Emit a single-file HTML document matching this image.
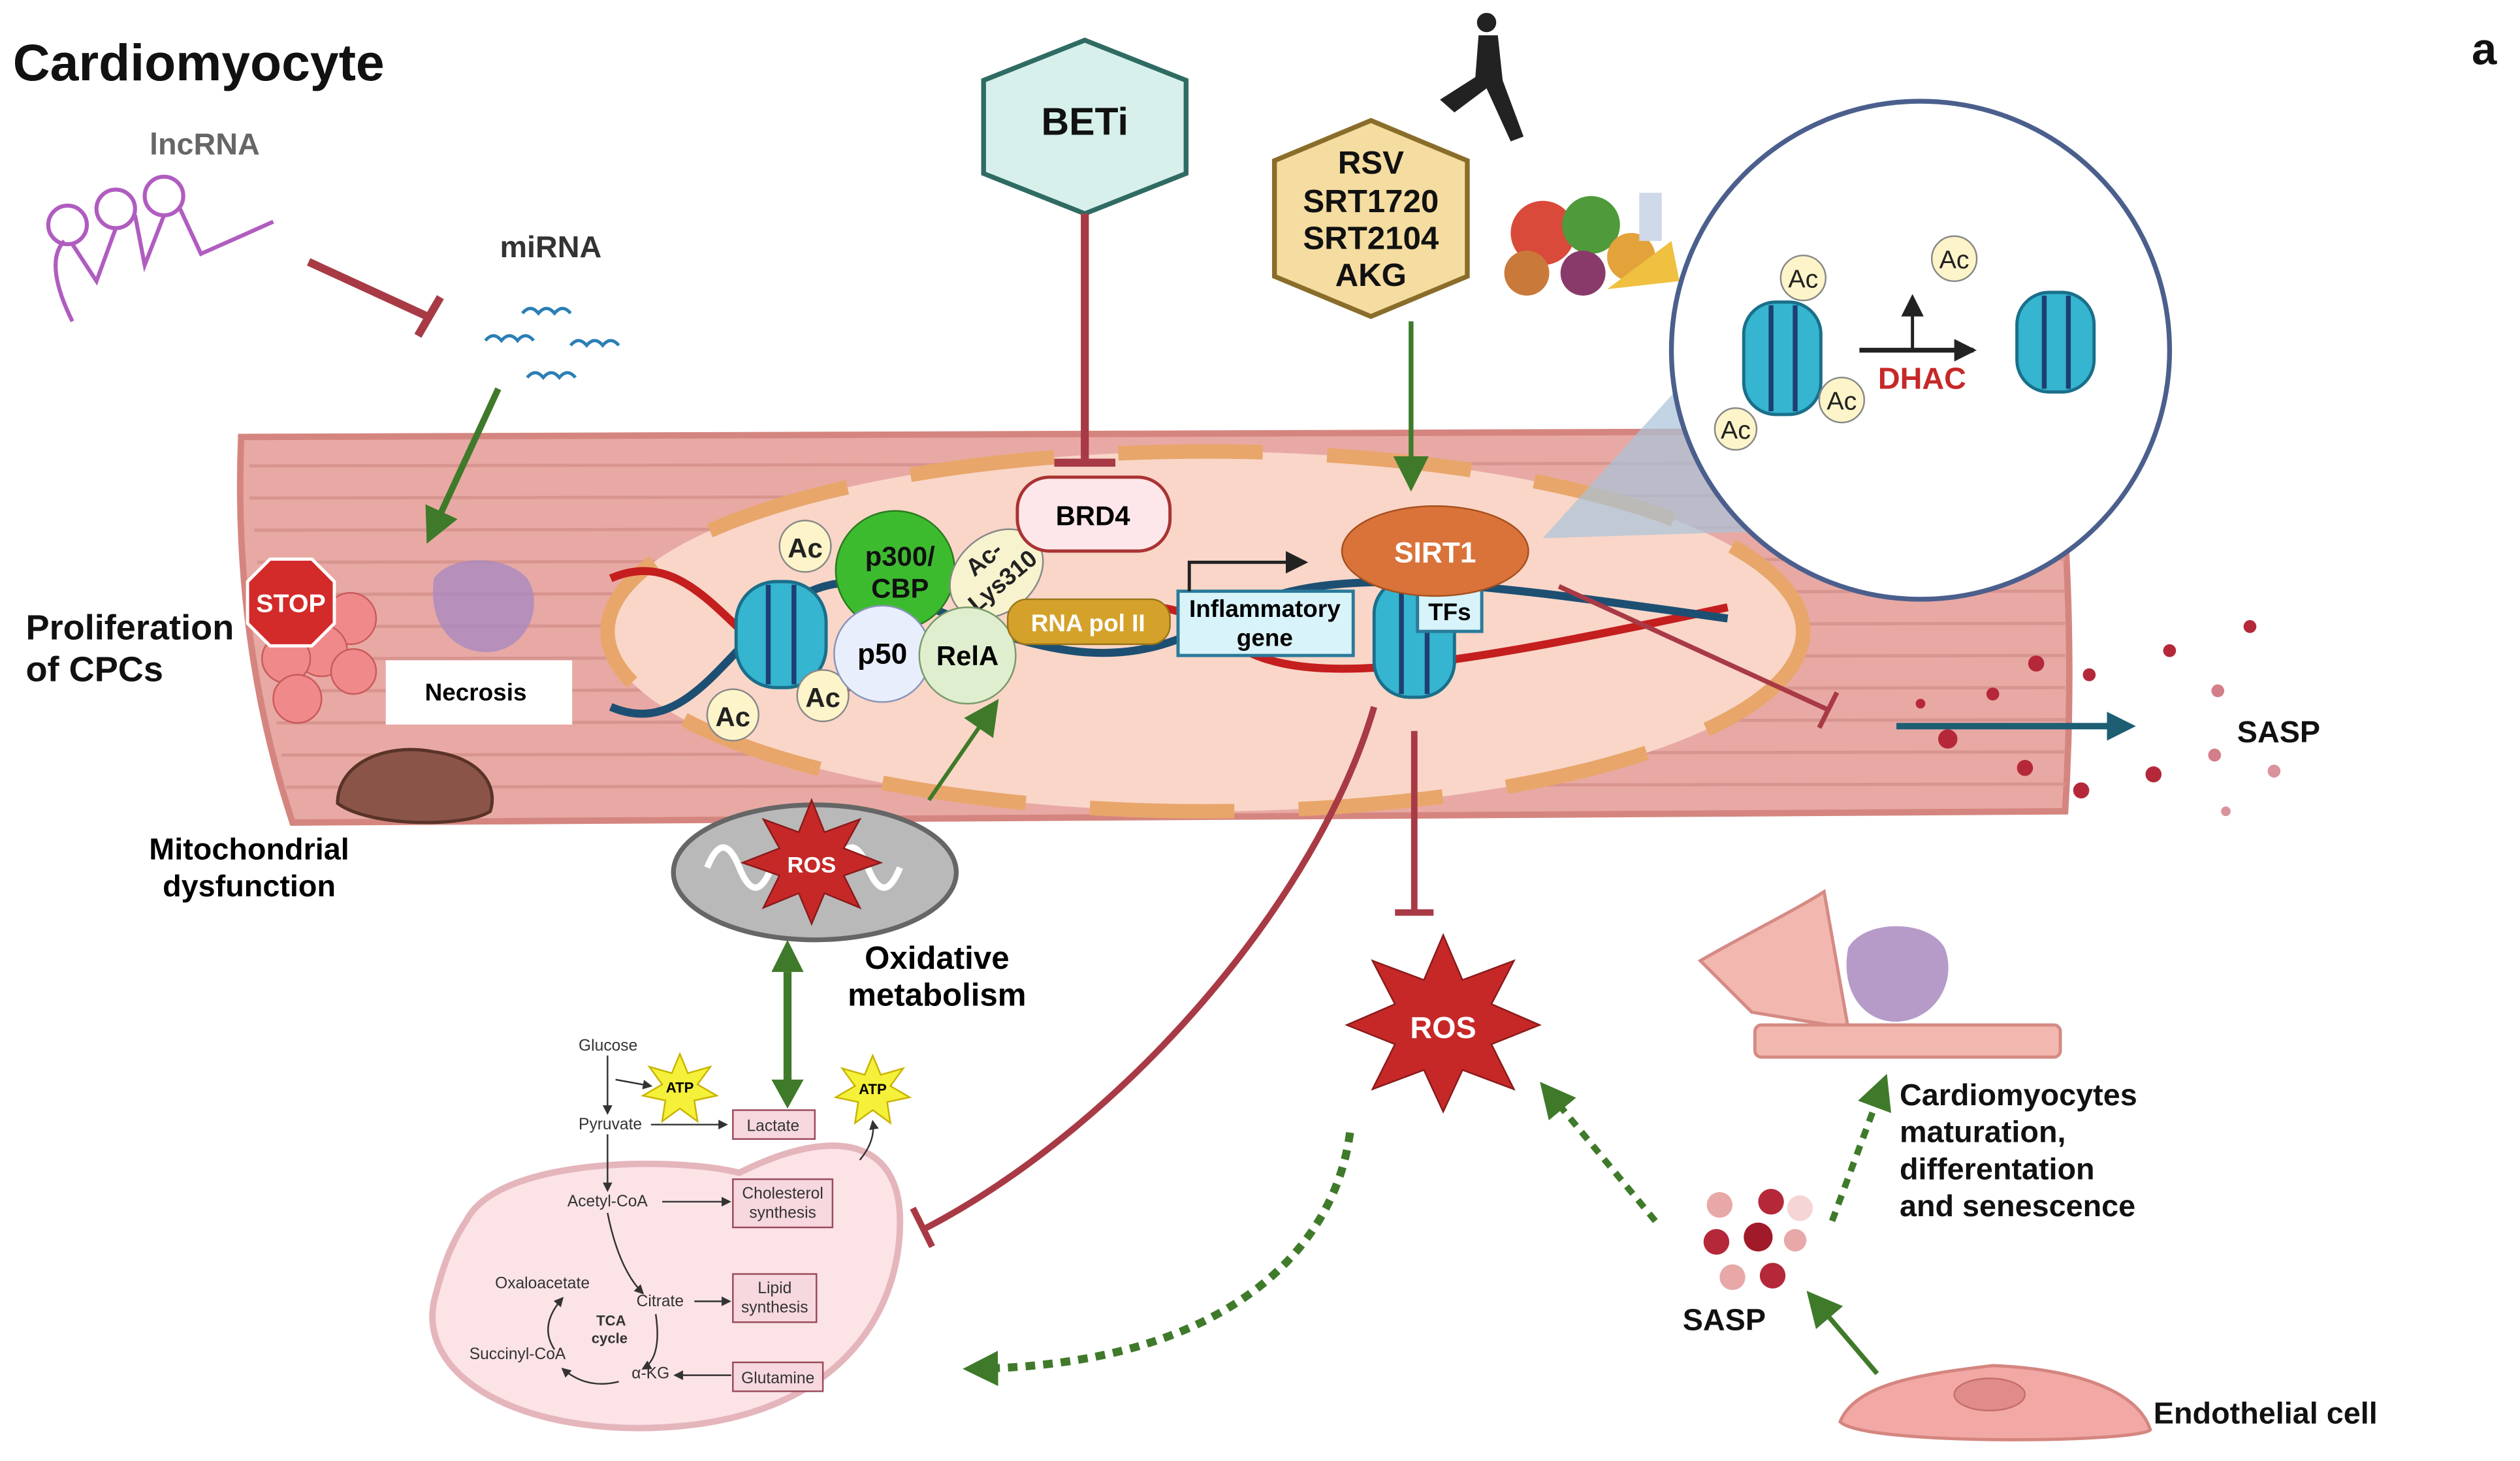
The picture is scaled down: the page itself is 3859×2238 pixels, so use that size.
<!DOCTYPE html>
<html><head><meta charset="utf-8"><style>html,body{margin:0;padding:0;background:#fff}svg{display:block}text{font-family:"Liberation Sans",sans-serif}</style></head>
<body>
<svg width="3859" height="2238" viewBox="0 0 1568 909.4" xmlns="http://www.w3.org/2000/svg">
<defs>
<marker id="agb" markerWidth="22" markerHeight="22" refX="16" refY="11" orient="auto" markerUnits="userSpaceOnUse"><path d="M0,0 L22,11 L0,22 z" fill="#3f7a2a"/></marker>
<marker id="ab" markerWidth="18" markerHeight="18" refX="14" refY="9" orient="auto" markerUnits="userSpaceOnUse"><path d="M0,0 L18,9 L0,18 z" fill="#1d5e73"/></marker>
<marker id="ak" markerWidth="14" markerHeight="14" refX="12" refY="7" orient="auto" markerUnits="userSpaceOnUse"><path d="M0,0 L14,7 L0,14 z" fill="#222"/></marker>
<marker id="as" markerWidth="6" markerHeight="6" refX="5" refY="3" orient="auto" markerUnits="userSpaceOnUse"><path d="M0,0 L6,3 L0,6 z" fill="#333"/></marker>
</defs>
<rect width="1568" height="910" fill="#fff"/>
<text x="8" y="50" font-size="32" font-weight="bold" fill="#111">Cardiomyocyte</text>
<text x="1538" y="40" font-size="28" font-weight="bold" fill="#111">a</text>

<!-- lncRNA -->
<text x="93" y="96" font-size="19" font-weight="bold" fill="#666">lncRNA</text>
<g fill="none" stroke="#b05cc0" stroke-width="2.5">
<path d="M45,200 C35,180 30,160 40,150"/>
<circle cx="42" cy="140" r="12"/><circle cx="72" cy="130" r="12"/><circle cx="102" cy="122" r="12"/>
<path d="M45,152 L60,175 L72,142 M84,134 L90,165 L102,134 M112,130 L125,158 L170,138"/></g>
<line x1="192" y1="163" x2="266" y2="197" stroke="#a83a45" stroke-width="5"/>
<line x1="260" y1="209" x2="274" y2="185" stroke="#a83a45" stroke-width="5"/>
<text x="311" y="160" font-size="19" font-weight="bold" fill="#333">miRNA</text>
<g stroke="#2a7fb5" stroke-width="2" fill="none">
<path d="M325,195 q5,-6 10,0 q5,-6 10,0 q5,-6 10,0"/><path d="M302,212 q5,-6 10,0 q5,-6 10,0 q5,-6 10,0"/>
<path d="M355,215 q5,-6 10,0 q5,-6 10,0 q5,-6 10,0"/><path d="M328,235 q5,-6 10,0 q5,-6 10,0 q5,-6 10,0"/></g>

<!-- muscle cell -->
<path d="M150,272 L1280,268 Q1292,390 1285,505 L182,512 Q145,400 150,272 z" fill="#e8a9a4" stroke="#d5857f" stroke-width="4"/>
<g stroke="#d89590" stroke-width="2">
<line x1="155" y1="290" x2="1285" y2="288"/><line x1="155" y1="310" x2="1285" y2="308"/><line x1="158" y1="330" x2="1285" y2="328"/><line x1="160" y1="350" x2="1285" y2="348"/><line x1="162" y1="370" x2="1285" y2="368"/><line x1="165" y1="390" x2="1285" y2="388"/><line x1="168" y1="410" x2="1285" y2="408"/><line x1="170" y1="430" x2="1285" y2="428"/><line x1="172" y1="450" x2="1285" y2="448"/><line x1="175" y1="470" x2="1285" y2="468"/><line x1="178" y1="490" x2="1285" y2="488"/></g>
<line x1="310" y1="242" x2="268" y2="333" stroke="#3f7a2a" stroke-width="4" marker-end="url(#agb)"/>
<!-- nucleus -->
<ellipse cx="750" cy="393" rx="372" ry="112" fill="#f9d6c8"/>
<ellipse cx="750" cy="393" rx="372" ry="112" fill="none" stroke="#e8a66a" stroke-width="9" stroke-dasharray="90 40"/>
<polygon points="960,335 1050,235 1120,330" fill="#a9c3d8" opacity="0.7"/>
<!-- DNA -->
<path d="M380,360 C450,330 470,460 560,420 S720,360 760,395 S880,420 1075,378" fill="none" stroke="#c41e1e" stroke-width="5"/>
<path d="M380,440 C450,470 470,330 560,370 S700,420 760,385 S900,360 1075,385" fill="none" stroke="#1d4f73" stroke-width="5"/>
<g><rect x="458" y="362" width="56" height="66" rx="25" fill="#35b5cf" stroke="#1a6f8a" stroke-width="2"/><line x1="478" y1="364" x2="478" y2="426" stroke="#1d3f73" stroke-width="3"/><line x1="494" y1="364" x2="494" y2="426" stroke="#1d3f73" stroke-width="3"/></g>
<g><rect x="855" y="360" width="50" height="74" rx="22" fill="#35b5cf" stroke="#1a6f8a" stroke-width="2"/><line x1="872" y1="362" x2="872" y2="432" stroke="#1d3f73" stroke-width="3"/><line x1="888" y1="362" x2="888" y2="432" stroke="#1d3f73" stroke-width="3"/></g>
<g font-size="17" font-weight="bold" fill="#222" text-anchor="middle">
<circle cx="501" cy="340" r="16" fill="#fdf5c9" stroke="#888"/><text x="501" y="347">Ac</text>
<circle cx="456" cy="445" r="16" fill="#fdf5c9" stroke="#888"/><text x="456" y="452">Ac</text>
<circle cx="512" cy="433" r="16" fill="#fdf5c9" stroke="#888"/><text x="512" y="440">Ac</text></g>
<circle cx="557" cy="355" r="37" fill="#3dbb2f" stroke="#2a7a20"/>
<text x="560" y="352" font-size="17" font-weight="bold" text-anchor="middle" fill="#111">p300/</text>
<text x="560" y="372" font-size="17" font-weight="bold" text-anchor="middle" fill="#111">CBP</text>
<ellipse cx="620" cy="357" rx="32" ry="24" transform="rotate(-40 620 357)" fill="#f8f3cf" stroke="#888"/>
<text x="620" y="350" font-size="15" font-weight="bold" text-anchor="middle" transform="rotate(-40 620 357)" fill="#222">Ac-</text>
<text x="620" y="368" font-size="15" font-weight="bold" text-anchor="middle" transform="rotate(-40 620 357)" fill="#222">Lys310</text>
<circle cx="549" cy="407" r="30" fill="#e8eefc" stroke="#8894b8"/><text x="549" y="413" font-size="18" font-weight="bold" text-anchor="middle">p50</text>
<circle cx="602" cy="408" r="30" fill="#dfeecf" stroke="#7a9a6a"/><text x="602" y="414" font-size="17" font-weight="bold" text-anchor="middle">RelA</text>
<rect x="627" y="373" width="101" height="28" rx="12" fill="#d4a22b" stroke="#9a7418"/><text x="677" y="393" font-size="15" font-weight="bold" text-anchor="middle" fill="#fff">RNA pol II</text>
<rect x="733" y="368" width="109" height="40" fill="#d8f3f9" stroke="#2a7a9a" stroke-width="2"/>
<text x="787" y="384" font-size="15" font-weight="bold" text-anchor="middle">Inflammatory</text><text x="787" y="402" font-size="15" font-weight="bold" text-anchor="middle">gene</text>
<path d="M740,368 L740,350 L812,350" fill="none" stroke="#222" stroke-width="2" marker-end="url(#ak)"/>
<rect x="882" y="367" width="40" height="26" fill="#d8f3f9" stroke="#2a7a9a" stroke-width="2"/><text x="902" y="386" font-size="15" font-weight="bold" text-anchor="middle">TFs</text>
<ellipse cx="893" cy="343" rx="58" ry="28" fill="#d9733a" stroke="#a5501f"/><text x="893" y="350" font-size="18" font-weight="bold" text-anchor="middle" fill="#fff">SIRT1</text>
<rect x="633" y="297" width="95" height="46" rx="20" fill="#fde7ea" stroke="#a33" stroke-width="2"/><text x="680" y="327" font-size="17" font-weight="bold" text-anchor="middle">BRD4</text>

<!-- BETi -->
<polygon points="675,25 738,50 738,108 675,133 612,108 612,50" fill="#d7f0ec" stroke="#2f6b63" stroke-width="3"/>
<text x="675" y="84" font-size="24" font-weight="bold" text-anchor="middle" fill="#111">BETi</text>
<line x1="675" y1="133" x2="675" y2="288" stroke="#a83a45" stroke-width="5"/>
<line x1="656" y1="288" x2="694" y2="288" stroke="#a83a45" stroke-width="5"/>
<!-- RSV -->
<polygon points="853,75 913,100 913,172 853,197 793,172 793,100" fill="#f5dca0" stroke="#8a6d2a" stroke-width="3"/>
<g font-size="20" font-weight="bold" text-anchor="middle" fill="#111"><text x="853" y="108">RSV</text><text x="853" y="132">SRT1720</text><text x="853" y="155">SRT2104</text><text x="853" y="178">AKG</text></g>
<line x1="878" y1="200" x2="878" y2="300" stroke="#3f7a2a" stroke-width="3" marker-end="url(#agb)"/>
<g fill="#222"><circle cx="925" cy="14" r="6"/><path d="M920,22 L932,22 L935,50 L948,85 L940,88 L925,55 L905,70 L896,62 L918,48 z"/></g>
<g><circle cx="960" cy="145" r="20" fill="#d94a3a"/><circle cx="990" cy="140" r="18" fill="#4f9a3a"/><circle cx="1015" cy="160" r="15" fill="#e3a33a"/><circle cx="950" cy="170" r="14" fill="#c97a3a"/><circle cx="985" cy="170" r="14" fill="#8a3a6a"/><rect x="1020" y="120" width="14" height="30" fill="#cfd8e8"/><path d="M1000,180 L1040,150 L1045,175 z" fill="#f0c040"/></g>

<!-- zoom circle -->
<circle cx="1195" cy="218" r="155" fill="#fff" stroke="#4b5f8d" stroke-width="3"/>
<g><rect x="1085" y="188" width="48" height="70" rx="20" fill="#35b5cf" stroke="#1a6f8a" stroke-width="2"/><line x1="1102" y1="190" x2="1102" y2="256" stroke="#1d3f73" stroke-width="3"/><line x1="1117" y1="190" x2="1117" y2="256" stroke="#1d3f73" stroke-width="3"/></g>
<g><rect x="1255" y="182" width="48" height="62" rx="20" fill="#35b5cf" stroke="#1a6f8a" stroke-width="2"/><line x1="1272" y1="184" x2="1272" y2="242" stroke="#1d3f73" stroke-width="3"/><line x1="1287" y1="184" x2="1287" y2="242" stroke="#1d3f73" stroke-width="3"/></g>
<g font-size="16" text-anchor="middle" fill="#222">
<circle cx="1122" cy="173" r="14" fill="#fdf5c9" stroke="#888"/><text x="1122" y="179">Ac</text>
<circle cx="1146" cy="249" r="14" fill="#fdf5c9" stroke="#888"/><text x="1146" y="255">Ac</text>
<circle cx="1080" cy="267" r="13" fill="#fdf5c9" stroke="#888"/><text x="1080" y="273">Ac</text>
<circle cx="1216" cy="161" r="14" fill="#fdf5c9" stroke="#888"/><text x="1216" y="167">Ac</text></g>
<line x1="1157" y1="218" x2="1228" y2="218" stroke="#222" stroke-width="3" marker-end="url(#ak)"/>
<path d="M1190,218 L1190,185" stroke="#222" stroke-width="2" fill="none" marker-end="url(#ak)"/>
<text x="1196" y="242" font-size="19" font-weight="bold" text-anchor="middle" fill="#c62828">DHAC</text>

<!-- left side -->
<g fill="#f08a8a" stroke="#c95a5a"><circle cx="218" cy="385" r="16"/><circle cx="200" cy="405" r="16"/><circle cx="178" cy="410" r="15"/><circle cx="220" cy="418" r="14"/><circle cx="185" cy="435" r="15"/></g>
<polygon points="168,348 194,348 208,362 208,388 194,402 168,402 154,388 154,362" fill="#d32a2a" stroke="#fff" stroke-width="2"/>
<text x="181" y="381" font-size="16" font-weight="bold" text-anchor="middle" fill="#fff">STOP</text>
<text x="16" y="398" font-size="22" font-weight="bold" fill="#111">Proliferation</text>
<text x="16" y="424" font-size="22" font-weight="bold" fill="#111">of CPCs</text>
<path d="M270,360 C280,345 315,345 328,360 C338,375 330,400 310,405 C290,410 265,395 270,360 z" fill="#a98ac0" opacity="0.8"/>
<rect x="240" y="411" width="116" height="40" fill="#fff"/><text x="296" y="436" font-size="15" font-weight="bold" text-anchor="middle">Necrosis</text>
<path d="M210,500 C210,475 240,462 270,468 C300,472 310,490 305,505 C290,515 230,515 210,500 z" fill="#8a5548" stroke="#5a3328" stroke-width="2"/>
<rect x="90" y="515" width="130" height="48" fill="#fff"/>
<text x="155" y="535" font-size="19" font-weight="bold" text-anchor="middle">Mitochondrial</text>
<text x="155" y="558" font-size="19" font-weight="bold" text-anchor="middle">dysfunction</text>

<!-- mito + ROS -->
<ellipse cx="507" cy="543" rx="88" ry="42" fill="#b9b9b9" stroke="#666" stroke-width="3"/>
<path d="M440,540 q10,-25 20,0 q10,25 20,0 q10,-25 20,0 q10,25 20,0 q10,-25 20,0 q10,25 20,0" fill="none" stroke="#fff" stroke-width="4"/>
<polygon points="505,498 513,518 535,510 525,528 548,537 525,545 535,565 513,556 505,575 497,556 475,565 485,545 462,537 485,528 475,510 497,518" fill="#c62828" stroke="#8a1a1a"/>
<text x="505" y="543" font-size="14" font-weight="bold" text-anchor="middle" fill="#fff">ROS</text>
<line x1="578" y1="498" x2="618" y2="440" stroke="#3f7a2a" stroke-width="2.5" marker-end="url(#agb)"/>
<text x="583" y="603" font-size="20" font-weight="bold" text-anchor="middle">Oxidative</text>
<text x="583" y="626" font-size="20" font-weight="bold" text-anchor="middle">metabolism</text>
<line x1="490" y1="605" x2="490" y2="675" stroke="#3f7a2a" stroke-width="5"/>
<polygon points="490,585 480,605 500,605" fill="#3f7a2a"/><polygon points="490,690 480,672 500,672" fill="#3f7a2a"/>

<!-- metabolic mito -->
<path d="M290,760 C310,720 420,720 460,730 C520,700 560,710 560,760 C560,820 520,880 420,888 C330,895 260,860 270,810 C275,790 280,775 290,760 z" fill="#fbe3e6" stroke="#e5b5bc" stroke-width="4"/>
<g font-size="10" fill="#333">
<text x="360" y="654">Glucose</text><text x="360" y="703">Pyruvate</text><text x="353" y="751">Acetyl-CoA</text>
<text x="308" y="802">Oxaloacetate</text><text x="396" y="813">Citrate</text><text x="292" y="846">Succinyl-CoA</text><text x="393" y="858">α-KG</text>
<text x="371" y="825" font-weight="bold" font-size="9">TCA</text><text x="368" y="836" font-weight="bold" font-size="9">cycle</text></g>
<g stroke="#333" stroke-width="1" fill="none">
<line x1="378" y1="657" x2="378" y2="693" marker-end="url(#as)"/><line x1="378" y1="706" x2="378" y2="741" marker-end="url(#as)"/>
<line x1="405" y1="700" x2="452" y2="700" marker-end="url(#as)"/><line x1="412" y1="748" x2="454" y2="748" marker-end="url(#as)"/>
<line x1="432" y1="810" x2="454" y2="810" marker-end="url(#as)"/><line x1="455" y1="856" x2="420" y2="856" marker-end="url(#as)"/>
<path d="M378,755 Q385,790 400,805" marker-end="url(#as)"/><path d="M383,672 L405,676" marker-end="url(#as)"/>
<path d="M408,818 Q412,845 400,852" marker-end="url(#as)"/><path d="M385,860 Q365,865 350,852" marker-end="url(#as)"/><path d="M345,840 Q335,825 350,808" marker-end="url(#as)"/>
<path d="M535,722 Q545,710 543,698" marker-end="url(#as)"/></g>
<g font-size="10" text-anchor="middle" fill="#333">
<rect x="456" y="691" width="51" height="18" fill="#f6d8de" stroke="#9a4a5a"/><text x="481" y="704">Lactate</text>
<rect x="456" y="734" width="62" height="30" fill="#f6d8de" stroke="#9a4a5a"/><text x="487" y="746">Cholesterol</text><text x="487" y="758">synthesis</text>
<rect x="456" y="793" width="52" height="30" fill="#f6d8de" stroke="#9a4a5a"/><text x="482" y="805">Lipid</text><text x="482" y="817">synthesis</text>
<rect x="456" y="848" width="56" height="18" fill="#f6d8de" stroke="#9a4a5a"/><text x="484" y="861">Glutamine</text></g>
<g><polygon points="423,656 428,668 442,664 434,675 446,682 432,685 434,698 423,690 412,698 414,685 400,682 412,675 404,664 418,668" fill="#f5f03a" stroke="#c9b400"/><text x="423" y="680" font-size="9" font-weight="bold" text-anchor="middle">ATP</text>
<polygon points="543,657 548,669 562,665 554,676 566,683 552,686 554,699 543,691 532,699 534,686 520,683 532,676 524,665 538,669" fill="#f5f03a" stroke="#c9b400"/><text x="543" y="681" font-size="9" font-weight="bold" text-anchor="middle">ATP</text></g>

<!-- inhibitions from SIRT1 -->
<path d="M855,440 C820,560 700,700 575,765" fill="none" stroke="#a83a45" stroke-width="4"/>
<line x1="568" y1="752" x2="580" y2="776" stroke="#a83a45" stroke-width="4"/>
<line x1="880" y1="455" x2="880" y2="568" stroke="#a83a45" stroke-width="4"/>
<line x1="868" y1="568" x2="892" y2="568" stroke="#a83a45" stroke-width="4"/>
<line x1="970" y1="365" x2="1138" y2="442" stroke="#a83a45" stroke-width="3"/>
<line x1="1132" y1="453" x2="1143" y2="431" stroke="#a83a45" stroke-width="3"/>

<polygon points="898,582 910,610 942,598 928,625 958,638 928,650 942,678 910,666 898,692 886,666 854,678 868,650 838,638 868,625 854,598 886,610" fill="#c62828" stroke="#8a1a1a"/>
<text x="898" y="646" font-size="19" font-weight="bold" text-anchor="middle" fill="#fff">ROS</text>

<line x1="1180" y1="452" x2="1325" y2="452" stroke="#1d5e73" stroke-width="4" marker-end="url(#ab)"/>
<g fill="#b5283a"><circle cx="1267" cy="413" r="5"/><circle cx="1212" cy="460" r="6"/><circle cx="1240" cy="432" r="4"/><circle cx="1300" cy="420" r="4"/><circle cx="1350" cy="405" r="4"/><circle cx="1400" cy="390" r="4"/><circle cx="1295" cy="492" r="5"/><circle cx="1260" cy="478" r="5"/><circle cx="1340" cy="482" r="5"/><circle cx="1378" cy="470" r="4" opacity="0.6"/><circle cx="1415" cy="480" r="4" opacity="0.5"/><circle cx="1195" cy="438" r="3"/><circle cx="1380" cy="430" r="4" opacity="0.6"/><circle cx="1385" cy="505" r="3" opacity="0.5"/></g>
<text x="1392" y="462" font-size="19" font-weight="bold" fill="#111">SASP</text>

<path d="M1058,598 C1080,585 1120,565 1135,555 L1150,640 L1090,630 z" fill="#f2b8b0" stroke="#d58a84" stroke-width="2"/>
<rect x="1092" y="638" width="190" height="20" rx="4" fill="#f2b8b0" stroke="#d58a84" stroke-width="2"/>
<path d="M1150,590 C1160,572 1200,572 1210,590 C1218,610 1205,635 1180,636 C1158,636 1145,615 1150,590 z" fill="#a98ac0" opacity="0.85"/>
<g font-size="19" font-weight="bold" fill="#111"><text x="1182" y="688">Cardiomyocytes</text><text x="1182" y="711">maturation,</text><text x="1182" y="734">differentation</text><text x="1182" y="757">and senescence</text></g>

<g><circle cx="1070" cy="750" r="8" fill="#e8a8a8"/><circle cx="1102" cy="748" r="8" fill="#b5283a"/><circle cx="1120" cy="752" r="8" fill="#f5d5d5"/><circle cx="1068" cy="773" r="8" fill="#b5283a"/><circle cx="1094" cy="770" r="9" fill="#a01a2a"/><circle cx="1117" cy="772" r="7" fill="#e8a8a8"/><circle cx="1078" cy="795" r="8" fill="#e8a8a8"/><circle cx="1103" cy="794" r="8" fill="#b5283a"/></g>
<text x="1047" y="828" font-size="19" font-weight="bold" fill="#111">SASP</text>
<line x1="1030" y1="760" x2="962" y2="678" stroke="#3f7a2a" stroke-width="4" stroke-dasharray="6 5" marker-end="url(#agb)"/>
<line x1="1140" y1="760" x2="1172" y2="674" stroke="#3f7a2a" stroke-width="4" stroke-dasharray="6 5" marker-end="url(#agb)"/>
<path d="M840,705 C830,780 760,850 605,852" fill="none" stroke="#3f7a2a" stroke-width="5" stroke-dasharray="6 5" marker-end="url(#agb)"/>
<line x1="1168" y1="855" x2="1128" y2="808" stroke="#3f7a2a" stroke-width="3" marker-end="url(#agb)"/>

<path d="M1145,885 C1155,860 1200,855 1240,850 C1290,852 1330,865 1338,890 C1330,898 1160,900 1145,885 z" fill="#f2a9a5" stroke="#d5857f" stroke-width="2"/>
<ellipse cx="1238" cy="868" rx="22" ry="10" fill="#e08c8a" stroke="#c56f6c"/>
<text x="1340" y="886" font-size="19" font-weight="bold" fill="#111">Endothelial cell</text>
</svg>
</body></html>
